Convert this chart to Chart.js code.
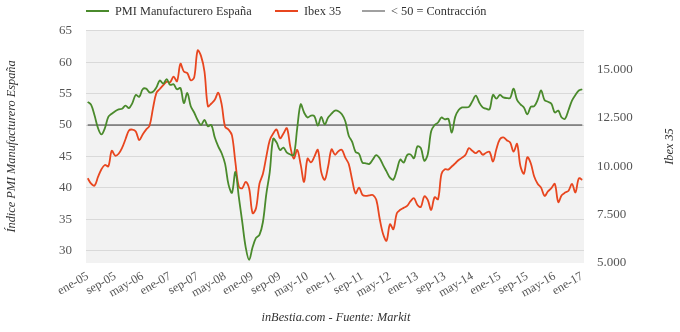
<!DOCTYPE html>
<html>
<head>
<meta charset="utf-8">
<script src="https://cdn.jsdelivr.net/npm/chart.js@4"></script>
<style>
  body { margin: 0; background: #fff; }
  #wrap { position: relative; width: 680px; height: 332px; }
  .lg { position: absolute; top: 4px; line-height: 20px; font: 12.3px "Liberation Serif", serif; color: #333; white-space: nowrap; }
  .lg i { display: inline-block; width: 23px; height: 2px; vertical-align: middle; margin: -2px 6px 0 0; }
</style>
</head>
<body>
<div id="wrap">
  <div class="lg" style="left:86px"><i style="background:#4a8a2c"></i>PMI Manufacturero España</div>
  <div class="lg" style="left:275px"><i style="background:#e8461f"></i>Ibex 35</div>
  <div class="lg" style="left:362px"><i style="background:#a0a0a0"></i>&lt; 50 = Contracción</div>
  <canvas id="chart" width="680" height="332"></canvas>
</div>
<script>
const months = ["ene", "feb", "mar", "abr", "may", "jun", "jul", "ago", "sep", "oct", "nov", "dic"];
const firstYear = 2005;
const lastYear = 2017; // only enero of the last year

// PMI manufacturero España, ene-05 .. ene-17
const pmi = [
  53.7, 53.2, 51.5, 49.5, 48.5, 49.5, 51.3, 51.8, 52.2, 52.5, 52.6, 53.1,
  52.7, 53.5, 54.8, 54.5, 55.7, 55.8, 55.2, 55.3, 56.0, 57.1, 56.6, 57.3,
  56.4, 56.5, 55.7, 55.9, 53.5, 55.1, 53.0, 52.0, 50.8, 50.0, 50.8, 49.8,
  50.0, 48.0, 46.6, 45.5, 43.8, 40.5, 39.2, 42.5, 38.5, 34.5, 30.5, 28.5,
  30.5, 32.0, 32.5, 34.5, 39.0, 42.5, 47.8, 47.2, 46.0, 46.4, 45.6, 45.3,
  45.2, 49.5, 53.3, 52.0, 51.2, 51.5, 51.4, 49.9, 51.3, 50.1, 51.2, 51.8,
  52.3, 52.2, 51.7, 50.6, 48.3, 47.3, 45.7, 45.4, 44.0, 43.9, 43.8, 44.5,
  45.2, 44.7, 43.6, 42.6, 41.6, 41.3, 42.8, 44.5, 44.0, 45.2, 45.3, 44.7,
  46.6, 46.3, 44.3, 45.3, 49.0, 50.0, 50.4, 51.2, 50.9, 51.0, 48.8, 51.3,
  52.4, 52.8, 52.8, 52.9, 53.8, 54.7, 53.6, 52.8, 52.6, 52.5, 54.8, 54.2,
  54.8, 54.4, 54.3, 54.3, 55.8, 54.0, 53.3, 52.8, 51.7, 52.9, 53.0, 54.0,
  55.5, 54.0, 53.7, 53.4, 52.0, 52.3, 51.2, 51.0, 52.4, 53.9, 54.8, 55.5,
  55.7
];

// Ibex 35, ene-05 .. ene-17
const ibex = [
  9380, 9100, 9000, 9450, 9850, 10070, 10000, 10800, 10550, 10650, 10950, 11400,
  11850, 11900, 11800, 11350, 11650, 11900, 12100, 13000, 13800, 14000, 14200, 14380,
  14350, 14640, 14400, 15300, 14900, 14820, 14450, 14600, 15990, 15700, 14900, 13100,
  13250, 13440, 13800, 13200, 12050, 11900, 11600, 10200, 8950, 8870, 9200, 8850,
  7580, 7830, 9100, 9600, 10500, 11350, 11700, 11900, 11450, 11700, 11970, 11000,
  10400, 10850, 10100, 9200, 10400, 10200, 10500, 10850, 9700, 9300, 9990, 10880,
  10600, 10780, 10850, 10450, 10120, 9300, 8600, 8900, 8520, 8470, 8500, 8520,
  8280, 7300, 6500, 6150, 7000, 6750, 7570, 7750, 7850, 7950, 8200, 8350,
  8000, 7900, 8450, 8260, 7750, 8400, 8300, 9600, 9850, 9830, 9990, 10150,
  10330, 10450, 10600, 10940, 10800, 10680, 10800, 10600, 10700, 10750, 10250, 10900,
  11400, 11500, 11350, 11230, 10760, 11160, 10000, 9620, 10470, 10160, 9470, 9100,
  8900, 8470, 8700, 8870, 9090, 8150, 8500, 8640, 8740, 9090, 8650, 9380,
  9300
];

const contractionLevel = 50;
const pmiTicks = [30, 35, 40, 45, 50, 55, 60, 65];
const ibexTicks = [5000, 7500, 10000, 12500, 15000];

let labels = [];
for (let y = firstYear; y <= lastYear; y++) {
  for (let m = 0; m < 12; m++) {
    if (y === lastYear && m > 0) break;
    labels.push(months[m] + "-" + String(y).slice(2));
  }
}

const contraction = [
  { x: labels[0], y: contractionLevel },
  { x: labels[labels.length - 1], y: contractionLevel }
];

function miles(v) {
  return String(v).replace(/\B(?=(\d{3})+(?!\d))/g, ".");
}

const serif = "'Liberation Serif', serif";

const plotBg = {
  id: "plotBg",
  beforeDraw(chart) {
    let a = chart.chartArea;
    let c = chart.ctx;
    c.save();
    c.fillStyle = "#f2f2f2";
    c.fillRect(a.left, a.top, a.right - a.left, a.bottom - a.top);
    c.restore();
  }
};

const extraText = {
  id: "extraText",
  afterDraw(chart) {
    let a = chart.chartArea;
    let c = chart.ctx;
    c.save();
    c.fillStyle = "#333";
    c.font = "italic 12.3px " + serif;
    c.textAlign = "center";
    c.textBaseline = "middle";
    c.fillText("inBestia.com - Fuente: Markit", 336, 318);
    c.translate(670, (a.top + a.bottom) / 2);
    c.rotate(-Math.PI / 2);
    c.fillText("Ibex 35", 0, 0);
    c.restore();
  }
};

let ctx = document.getElementById("chart").getContext("2d");

new Chart(ctx, {
  type: "line",
  data: {
    labels: labels,
    datasets: [
      {
        label: "PMI Manufacturero España",
        data: pmi,
        yAxisID: "y",
        borderColor: "#4a8a2c",
        borderWidth: 1.8,
        pointRadius: 0,
        tension: 0.35
      },
      {
        label: "Ibex 35",
        data: ibex,
        yAxisID: "y2",
        borderColor: "#e8461f",
        borderWidth: 1.8,
        pointRadius: 0,
        tension: 0.35
      },
      {
        label: "< 50 = Contracción",
        data: contraction,
        yAxisID: "y",
        borderColor: "#333",
        borderWidth: 1,
        pointRadius: 0,
        tension: 0
      }
    ]
  },
  options: {
    responsive: false,
    animation: false,
    layout: { padding: { top: 30, left: 0, right: 0, bottom: 0 } },
    plugins: {
      legend: { display: false },
      tooltip: { enabled: false }
    },
    scales: {
      x: {
        offset: true,
        grid: { display: false },
        border: { display: false },
        ticks: {
          autoSkip: false,
          minRotation: 30,
          maxRotation: 30,
          padding: -2,
          color: "#555",
          font: { family: serif, size: 12.3 },
          callback: function (val, idx) {
            return idx % 8 === 0 ? this.getLabelForValue(val) : "";
          }
        },
        afterFit(scale) { scale.height = 69; }
      },
      y: {
        position: "left",
        min: 28,
        max: 65.15,
        afterBuildTicks(scale) { scale.ticks = pmiTicks.map(v => ({ value: v })); },
        grid: { color: "#d9d9d9", lineWidth: 1, drawTicks: false },
        border: { display: false },
        ticks: {
          padding: 14,
          color: "#555",
          font: { family: serif, size: 13 }
        },
        title: {
          display: true,
          text: "Índice PMI Manufacturero España",
          color: "#333",
          font: { family: serif, size: 12.3, style: "italic" }
        },
        afterFit(scale) { scale.width = 86; }
      },
      y2: {
        position: "right",
        min: 5000,
        max: 17050,
        afterBuildTicks(scale) { scale.ticks = ibexTicks.map(v => ({ value: v })); },
        grid: { display: false, drawTicks: false },
        border: { display: false },
        ticks: {
          padding: 13,
          color: "#555",
          font: { family: serif, size: 13 },
          callback: v => miles(v)
        },
        afterFit(scale) { scale.width = 96; }
      }
    }
  },
  plugins: [plotBg, extraText]
});
</script>
</body>
</html>
